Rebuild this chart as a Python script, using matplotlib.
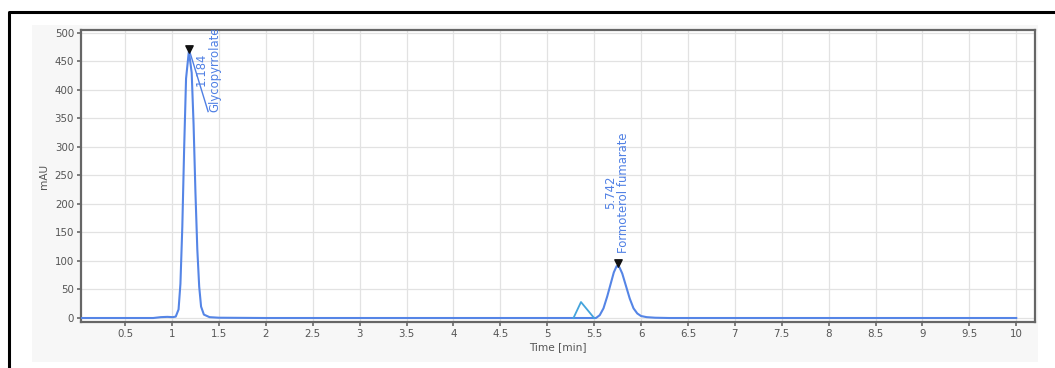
import matplotlib
matplotlib.use('Agg')
from matplotlib import pyplot as plt
from matplotlib.patches import Rectangle
from matplotlib.lines import Line2D

# chromatogram trace (time in min, signal in mAU)
time = [0.03, 0.5, 0.80, 0.88, 0.95, 1.01, 1.04, 1.07, 1.09, 1.11, 1.13, 1.15, 1.18,
        1.21, 1.23, 1.25, 1.27, 1.29, 1.31, 1.34, 1.40, 1.50, 2.0, 3.0, 4.0, 5.0,
        5.28, 5.52, 5.56, 5.60, 5.64, 5.68, 5.71, 5.74, 5.77, 5.80, 5.84, 5.88,
        5.92, 5.96, 6.00, 6.06, 6.15, 6.30, 7.0, 8.0, 9.0, 10.0]
signal = [0, 0, 0, 1.5, 2, 1.5, 2.5, 15, 60, 160, 300, 420, 468,
          430, 340, 220, 120, 55, 20, 6, 1.5, 0.5, 0, 0, 0, 0,
          0, 0, 5, 17, 38, 62, 80, 91, 89, 78, 56, 34,
          17, 8, 3.5, 1.5, 0.5, 0, 0, 0, 0, 0]

# small unlabelled peak
small_time = [5.28, 5.36, 5.50]
small_signal = [0, 28, 0]

peak_times = [1.18, 5.75]
peak_heights = [472, 97]
peak_labels = ['1.184\nGlycopyrrolate', '5.742\nFormoterol fumarate']
label_pos = [(1.385, 362), (5.74, 114)]

xticks = [0.5, 1, 1.5, 2, 2.5, 3, 3.5, 4, 4.5, 5, 5.5, 6, 6.5, 7, 7.5, 8, 8.5, 9, 9.5, 10]
yticks = [0, 50, 100, 150, 200, 250, 300, 350, 400, 450, 500]

line_color = '#5585e6'
text_color = '#5080e4'
grey = '#666666'


def main():
    plt.rcParams['font.family'] = 'DejaVu Sans'
    fig = plt.figure(figsize=(10.55, 3.68), dpi=100)

    # light background panel and the cut-off black frame
    fig.patches.append(Rectangle((32 / 1055, 1 - 362 / 368), 1006 / 1055, 337 / 368,
                                 transform=fig.transFigure, facecolor='#f7f7f7',
                                 edgecolor='none', zorder=-2))
    fig.lines.append(Line2D([9 / 1055, 9 / 1055, 1], [0, 1 - 12 / 368, 1 - 12 / 368],
                            transform=fig.transFigure, color='black', lw=2.2))

    ax = fig.add_axes([81 / 1055, 1 - 322 / 368, (1035 - 81) / 1055, (322 - 30) / 368])
    ax.set_facecolor('white')

    ax.plot(time, signal, color=line_color, lw=1.5, zorder=3)
    ax.plot(small_time, small_signal, color='#45a4dc', lw=1.3, zorder=3)
    ax.scatter(peak_times, peak_heights, marker='v', color='#111111', s=28, zorder=5)

    # leader line of the first label
    ax.plot([peak_times[0], label_pos[0][0]], [peak_heights[0], label_pos[0][1]],
            color=text_color, lw=1.0, zorder=4)

    for lab, (x, y) in zip(peak_labels, label_pos):
        ax.text(x, y, lab, rotation=90, ha='center', va='bottom', color=text_color,
                fontsize=8.4, linespacing=1.0, zorder=6, clip_on=True)

    ax.set_xlim(0.03, 10.2)
    ax.set_ylim(-7, 505)
    ax.set_xticks(xticks)
    ax.set_xticklabels([f'{v:g}' for v in xticks])
    ax.set_yticks(yticks)

    ax.grid(True, color='#e2e2e2', lw=0.9)
    ax.set_axisbelow(True)
    for s in ax.spines.values():
        s.set_color(grey)
        s.set_linewidth(1.6)
    ax.tick_params(colors=grey, labelcolor='#555555', labelsize=7.4, length=3, width=1.2, pad=2)

    ax.set_xlabel('Time [min]', fontsize=7.6, color='#555555', labelpad=2)
    ax.set_ylabel('mAU', fontsize=7.6, color='#555555', labelpad=4)

    fig.savefig('out.png', dpi=100)


if __name__ == '__main__':
    main()
